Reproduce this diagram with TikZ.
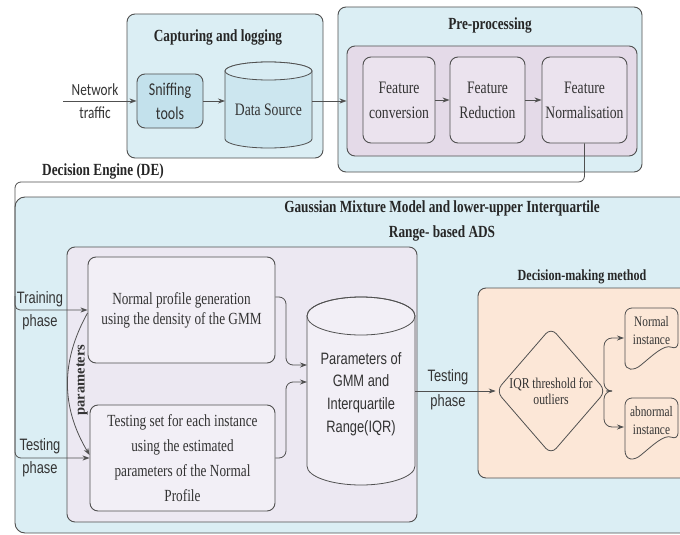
\documentclass[tikz,border=0pt]{standalone}
\usepackage{fontspec}
\setmainfont{Liberation Serif}
\newfontfamily\myserif[FakeStretch=0.78]{Liberation Serif}
\newfontfamily\mysans[FakeStretch=0.78]{Liberation Sans}
\newfontfamily\mycal[FakeStretch=0.78]{Carlito}
\newfontfamily\myplain{Liberation Serif}
\usetikzlibrary{shapes.geometric,arrows.meta}
\definecolor{lblue}{HTML}{DBEEF4}
\definecolor{sblue}{HTML}{C3E1EC}
\definecolor{dsblue}{HTML}{CCE6EF}
\definecolor{dstop}{HTML}{D8ECF3}
\definecolor{lavA}{HTML}{E4DAE8}
\definecolor{lavB}{HTML}{EBE3EE}
\definecolor{lavC}{HTML}{ECE8F2}
\definecolor{lavD}{HTML}{F2EFF6}
\definecolor{peach}{HTML}{FCE7D7}
\definecolor{bord}{HTML}{505050}
\newcommand\fsz[2]{\fontsize{#1}{#2}\selectfont}
\tikzset{
  bx/.style={draw=bord, line width=0.9pt, rounded corners=8pt},
  ln/.style={draw=bord, line width=0.8pt},
  arr/.style={draw=bord, line width=0.8pt, -{Stealth[length=7pt,width=5pt]}},
  ttl/.style={font=\myserif\bfseries\fsz{17}{25}, text=black!85, align=center, inner sep=0pt},
  boxtxt/.style={inner sep=0pt, align=center, text=black!80},
}
\begin{document}
\begin{tikzpicture}[x=1pt,y=-1pt]
\useasboundingbox (0,0) rectangle (680,535);
\clip (0,0) rectangle (680,535);
\fill[white] (0,0) rectangle (680,535);

% ---------- Capturing and logging ----------
\draw[bx, fill=lblue] (127,14) rectangle (323,158);
\node[ttl] (capt) at (218,37) {Capturing and logging};
\node[boxtxt, font=\mycal\fsz{17}{23}] (net) at (95,101) {Network\\traffic};
\coordinate (netin) at (63,101);
\node[bx, boxtxt, fill=sblue, minimum width=66, minimum height=54, font=\mycal\fsz{18}{24}] (sniff) at (170,101) {Sniffing\\tools};
\draw[ln, fill=dsblue] (225,71) -- (225,139) arc[start angle=180, end angle=0, x radius=43.5, y radius=9] -- (312,71) arc[start angle=0, end angle=-180, x radius=43.5, y radius=9] -- cycle;
\draw[ln, fill=dstop] (268.5,71) ellipse[x radius=43.5, y radius=9];
\node[boxtxt, font=\myserif\fsz{17.5}{24}] (ds) at (268.5,110) {Data Source};
\coordinate (dsw) at (225,101);
\coordinate (dse) at (312,101);
\draw[arr] (netin) -- (sniff.west);
\draw[arr] (sniff.east) -- (dsw);

% ---------- Pre-processing ----------
\draw[bx, fill=lblue] (338,7) rectangle (642,172);
\node[ttl] (pp) at (490,25) {Pre-processing};
\node[bx, fill=lavA, minimum width=290, minimum height=110, inner sep=0pt] (ppin) at (492,101) {};
\node[bx, boxtxt, fill=lavB, minimum width=72, minimum height=86, font=\myserif\fsz{17.5}{25}] (fc) at (399,100) {Feature\\conversion};
\node[bx, boxtxt, fill=lavB, minimum width=75, minimum height=86, font=\myserif\fsz{17.5}{25}] (fr) at (487.5,100) {Feature\\Reduction};
\node[bx, boxtxt, fill=lavB, minimum width=85, minimum height=86, font=\myserif\fsz{17.5}{25}] (fn) at (584.5,100) {Feature\\Normalisation};
\draw[arr] (dse) -- (ppin.west);
\draw[arr] (fc.east) -- (fr.west);
\draw[arr] (fr.east) -- (fn.west);

% ---------- Decision engine ----------
\draw[bx, fill=lblue, rounded corners=10pt] (15,197) rectangle (700,533);
\node[ttl] (de) at (103,171) {Decision Engine (DE)};
\node[ttl] (gmm) at (442,221) {Gaussian Mixture Model and lower-upper Interquartile\\Range- based ADS};

\draw[bx, fill=lavC] (67,247) rectangle (417,522);
\node[bx, boxtxt, fill=lavD, minimum width=187, minimum height=106, font=\myserif\fsz{17}{20}] (nps) at (181.5,310) {Normal profile generation\\using the density of the GMM};
\node[bx, boxtxt, fill=lavD, minimum width=185, minimum height=106, font=\myserif\fsz{17}{25}] (tsb) at (182.5,458) {Testing set for each instance\\using the estimated\\parameters of the Normal\\Profile};

% cylinder parameters
\draw[ln, fill=lavD] (307,316) -- (307,466) arc[start angle=180, end angle=0, x radius=54, y radius=19] -- (415,316) arc[start angle=0, end angle=-180, x radius=54, y radius=19] -- cycle;
\draw[ln] (361,316) ellipse[x radius=54, y radius=19];
\node[boxtxt, font=\mysans\fsz{16.5}{22.7}] (par) at (361,394) {Parameters of\\GMM and\\Interquartile\\Range(IQR)};
\coordinate (pin1) at (307,365);
\coordinate (pin2) at (307,382);
\coordinate (pe) at (415,391);

% DE connector and phases
\draw[arr, rounded corners=6pt] (fn.south) -- (584.5,182) -- (15,182) -- (15,458) -- (tsb.west);
\draw[arr, rounded corners=5pt] (15,296) -- (15,310) -- (nps.west);
\node[boxtxt, font=\mysans\fsz{16.5}{23}] (trp) at (40,311) {Training\\phase};
\node[boxtxt, font=\mysans\fsz{16.5}{23}] (tep) at (40,458) {Testing\\phase};
\draw[arr] ([yshift=-3pt]nps.west) to[bend right=30] ([yshift=3pt]tsb.west);
\node[inner sep=0pt, rotate=90, font=\myplain\bfseries\fsz{14.5}{16}, text=black!80] (prm) at (82,380) {parameters};

\draw[arr, rounded corners=7pt] ([yshift=13pt]nps.east) -- (286,297) -- (286,365) -- (pin1);
\draw[arr, rounded corners=7pt] (tsb.east) -- (286,458) -- (286,382) -- (pin2);

% ---------- Decision-making ----------
\node[ttl, font=\myserif\bfseries\fsz{15.5}{18}] (dm) at (582,277) {Decision-making method};
\draw[bx, fill=peach] (478,288) rectangle (700,478);
\node[diamond, draw=bord, line width=0.8pt, rounded corners=8pt, fill=peach, minimum width=102, minimum height=127, inner sep=0pt, align=center, font=\myserif\fsz{15}{16}, text=black!80] (dia) at (551,391) {IQR threshold for\\outliers};
\draw[arr] (pe) -- (dia.west);
\node[boxtxt, font=\mysans\fsz{16.5}{25}] (tp2) at (448,390) {Testing\\phase};

\draw[ln, fill=peach, rounded corners=7pt] (625,364) -- (625,308) -- (678,308) -- (678,350) [sharp corners] .. controls (664,344) and (652,356) .. (641,365) .. controls (634,371) and (625,371) .. (625,362) -- cycle;
\draw[ln, fill=peach, rounded corners=7pt] (625,452) -- (625,398) -- (678,398) -- (678,440) [sharp corners] .. controls (664,434) and (652,446) .. (641,455) .. controls (634,461) and (625,461) .. (625,450) -- cycle;
\node[boxtxt, font=\myserif\fsz{14.5}{18}] (ni) at (651.5,331) {Normal\\instance};
\node[boxtxt, font=\myserif\fsz{14.5}{18}] (ai) at (651.5,421) {abnormal\\instance};
\coordinate (nia) at (624,338);
\coordinate (aia) at (624,427);
\draw[arr, rounded corners=8pt] (dia.east) -- (604,391) -- (604,338) -- (nia);
\draw[arr, rounded corners=8pt] (dia.east) -- (604,391) -- (604,427) -- (aia);
\end{tikzpicture}
\end{document}
